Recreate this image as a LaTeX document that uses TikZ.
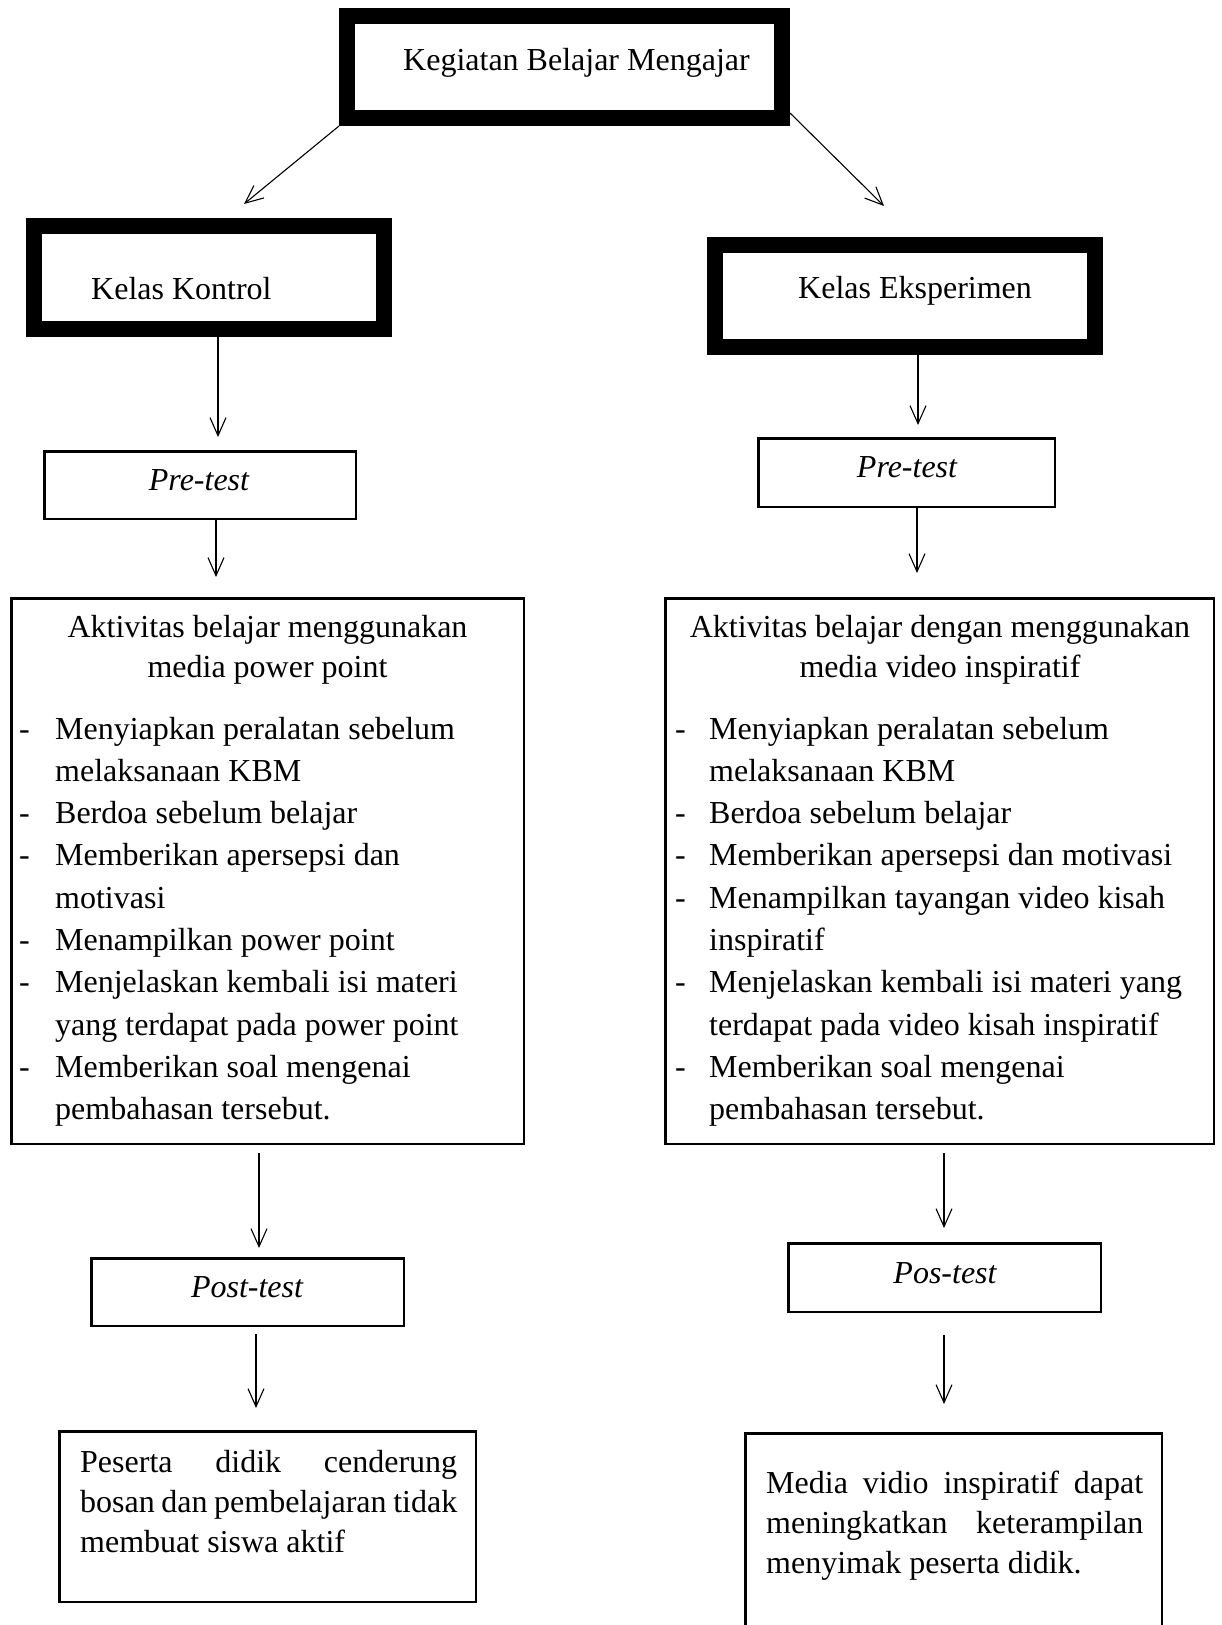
\documentclass[tikz,border=0pt]{standalone}
\usepackage{fontspec}
\setmainfont{Liberation Serif}
\usetikzlibrary{arrows.meta,calc}
\begin{document}
\begin{tikzpicture}[x=1pt,y=-1pt,
  every node/.style={font=\fontsize{32}{42.3}\selectfont},
  heavybox/.style={draw, line width=16pt, inner sep=0pt},
  thinbox/.style={draw, line width=2.5pt, inner sep=0pt},
  txt/.style={inner sep=0pt},
  arr/.style={-{Straight Barb[length=18pt,width=16pt]}, line width=1.1pt}]
\useasboundingbox (0,0) rectangle (1221,1625);
\clip (0,0) rectangle (1221,1625);
\fill[white] (0,0) rectangle (1221,1625);

% heavy boxes
\node[heavybox, minimum width=435pt, minimum height=102pt] (top) at (564.5,67) {};
\node[heavybox, minimum width=350pt, minimum height=103pt] (kk) at (209,277.5) {};
\node[heavybox, minimum width=380pt, minimum height=102pt] (ke) at (905,296) {};

% thin boxes
\node[thinbox, minimum width=311.5pt, minimum height=67.5pt] (pl) at (200,485) {};
\node[thinbox, minimum width=296.5pt, minimum height=68.5pt] (pr) at (906.5,472.5) {};
\node[thinbox, minimum width=512.5pt, minimum height=545.5pt] (al) at (267.5,871) {};
\node[thinbox, minimum width=548.5pt, minimum height=545.5pt] (ar) at (939.5,871) {};
\node[thinbox, minimum width=312.5pt, minimum height=67.5pt] (post) at (247.5,1292) {};
\node[thinbox, minimum width=312.5pt, minimum height=68.5pt] (pos) at (944.5,1277.5) {};
\node[thinbox, minimum width=416.5pt, minimum height=170.5pt] (rl) at (267.5,1516.5) {};
\node[thinbox, minimum width=416.5pt, minimum height=215.5pt] (rr) at (953.5,1541) {};

% texts
\node[txt, anchor=base west] (t0) at (403,70) {Kegiatan Belajar Mengajar};
\node[txt, anchor=base west] (t1) at (91,299) {Kelas Kontrol};
\node[txt, anchor=base west] (t2) at (798,298) {Kelas Eksperimen};
\node[txt, anchor=base] (t3) at (199,490) {\itshape Pre-test};
\node[txt, anchor=base] (t4) at (907,477) {\itshape Pre-test};
\node[txt, anchor=base] (t5) at (247,1297) {\itshape Post-test};
\node[txt, anchor=base] (t6) at (945,1283) {\itshape Pos-test};

\node[txt, anchor=base] (t7) at (267.5,637) {\begin{tabular}[t]{@{}c@{}}Aktivitas belajar menggunakan\\[-2.3pt]media power point\end{tabular}};
\node[txt, anchor=base] (t8) at (940,637) {\begin{tabular}[t]{@{}c@{}}Aktivitas belajar dengan menggunakan\\[-2.3pt]media video inspiratif\end{tabular}};

\node[txt, anchor=base west] (t9) at (19,739) {\begin{tabular}[t]{@{}p{36pt}@{}l@{}}
-& Menyiapkan peralatan sebelum\\
 & melaksanaan KBM\\
-& Berdoa sebelum belajar\\
-& Memberikan apersepsi dan\\
 & motivasi\\
-& Menampilkan power point\\
-& Menjelaskan kembali isi materi\\
 & yang terdapat pada power point\\
-& Memberikan soal mengenai\\
 & pembahasan tersebut.
\end{tabular}};

\node[txt, anchor=base west] (t10) at (675,739) {\begin{tabular}[t]{@{}p{34pt}@{}l@{}}
-& Menyiapkan peralatan sebelum\\
 & melaksanaan KBM\\
-& Berdoa sebelum belajar\\
-& Memberikan apersepsi dan motivasi\\
-& Menampilkan tayangan video kisah\\
 & inspiratif\\
-& Menjelaskan kembali isi materi yang\\
 & terdapat pada video kisah inspiratif\\
-& Memberikan soal mengenai\\
 & pembahasan tersebut.
\end{tabular}};

\node[txt, anchor=base west] (t11) at (80,1472) {\fontsize{32}{40}\selectfont\begin{tabular}[t]{@{}l@{}}
\makebox[377pt][s]{Peserta didik cenderung}\\
\makebox[377pt][s]{bosan dan pembelajaran tidak}\\
membuat siswa aktif
\end{tabular}};

\node[txt, anchor=base west] (t12) at (766,1493) {\fontsize{32}{40}\selectfont\begin{tabular}[t]{@{}l@{}}
\makebox[377pt][s]{Media vidio inspiratif dapat}\\
\makebox[377pt][s]{meningkatkan keterampilan}\\
menyimak peserta didik.
\end{tabular}};

% connector coordinates
\coordinate (c1) at (244,204);
\coordinate (c2) at (884,206);
\coordinate (xa) at (218,0);
\coordinate (xb) at (216,0);
\coordinate (xc) at (918,0);
\coordinate (xd) at (917,0);
\coordinate (xe) at (259,0);
\coordinate (xf) at (256,0);
\coordinate (xg) at (944,0);

% connectors
\draw[arr] (top.south west) -- (c1);
\draw[arr] ($(top.south east)+(0,-13)$) -- (c2);
\draw[arr, shorten >=13pt] (kk.south -| xa) -- (pl.north -| xa);
\draw[arr, shorten >=20pt] (pl.south -| xb) -- (al.north -| xb);
\draw[arr, shorten >=12pt] (ke.south -| xc) -- (pr.north -| xc);
\draw[arr, shorten >=24pt] (pr.south -| xd) -- (ar.north -| xd);
\draw[arr, shorten <=8pt, shorten >=9pt] (al.south -| xe) -- (post.north -| xe);
\draw[arr, shorten <=7pt, shorten >=22pt] (post.south -| xf) -- (rl.north -| xf);
\draw[arr, shorten <=8pt, shorten >=14pt] (ar.south -| xg) -- (pos.north -| xg);
\draw[arr, shorten <=22pt, shorten >=28pt] (pos.south -| xg) -- (rr.north -| xg);
\end{tikzpicture}
\end{document}
